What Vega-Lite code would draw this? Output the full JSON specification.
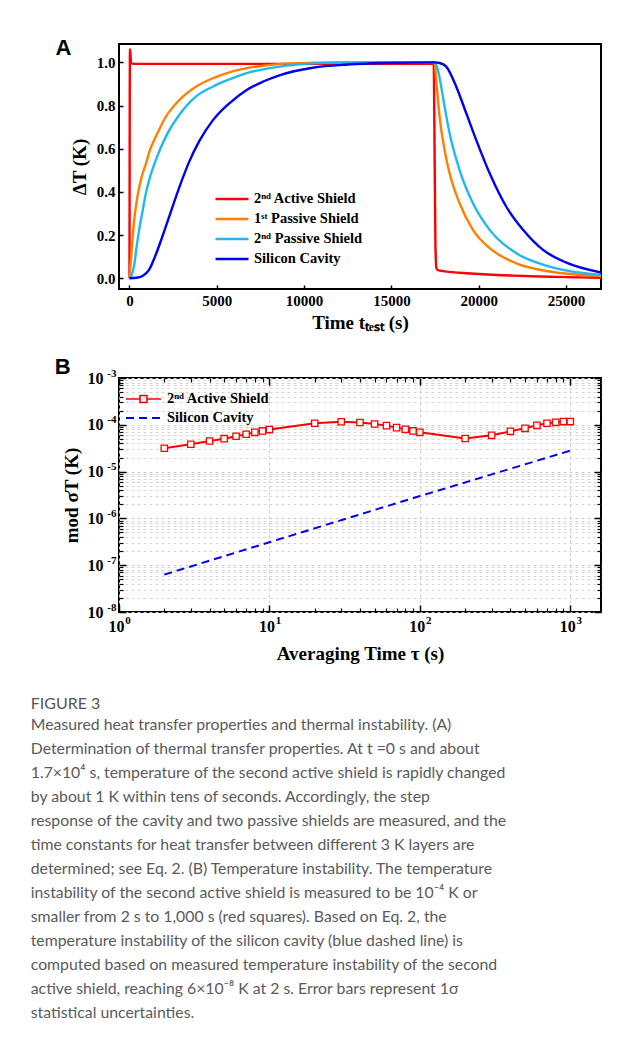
{
  "$schema": "https://vega.github.io/schema/vega-lite/v6.json",
  "background": "white",
  "padding": {"left": 30, "top": 36, "right": 5, "bottom": 5},
  "bounds": "flush",
  "spacing": 89,
  "title": {
    "text": "FIGURE 3",
    "subtitle": [
      "Measured heat transfer properties and thermal instability. (A)",
      "Determination of thermal transfer properties. At t =0 s and about",
      "1.7×10⁴ s, temperature of the second active shield is rapidly changed",
      "by about 1 K within tens of seconds. Accordingly, the step",
      "response of the cavity and two passive shields are measured, and the",
      "time constants for heat transfer between different 3 K layers are",
      "determined; see Eq. 2. (B) Temperature instability. The temperature",
      "instability of the second active shield is measured to be 10⁻⁴ K or",
      "smaller from 2 s to 1,000 s (red squares). Based on Eq. 2, the",
      "temperature instability of the silicon cavity (blue dashed line) is",
      "computed based on measured temperature instability of the second",
      "active shield, reaching 6×10⁻⁸ K at 2 s. Error bars represent 1σ",
      "statistical uncertainties."
    ],
    "orient": "bottom",
    "anchor": "start",
    "frame": "bounds",
    "offset": 32,
    "dx": -23,
    "font": "Lato",
    "fontSize": 16,
    "fontWeight": "normal",
    "color": "#555555",
    "subtitleFont": "Lato",
    "subtitleFontSize": 15.8,
    "subtitleColor": "#5a5a5a",
    "subtitleLineHeight": 24,
    "subtitlePadding": 6
  },
  "vconcat": [
    {
      "width": 482,
      "height": 245,
      "layer": [
        {
          "data": {"values": [
            {"t": 0, "v": 0, "s": "2ⁿᵈ Active Shield"},
            {"t": 15, "v": 0.85, "s": "2ⁿᵈ Active Shield"},
            {"t": 30, "v": 1.06, "s": "2ⁿᵈ Active Shield"},
            {"t": 55, "v": 1.04, "s": "2ⁿᵈ Active Shield"},
            {"t": 90, "v": 0.995, "s": "2ⁿᵈ Active Shield"},
            {"t": 300, "v": 0.993, "s": "2ⁿᵈ Active Shield"},
            {"t": 17420, "v": 0.993, "s": "2ⁿᵈ Active Shield"},
            {"t": 17470, "v": 0.6, "s": "2ⁿᵈ Active Shield"},
            {"t": 17520, "v": 0.15, "s": "2ⁿᵈ Active Shield"},
            {"t": 17580, "v": 0.045, "s": "2ⁿᵈ Active Shield"},
            {"t": 17700, "v": 0.036, "s": "2ⁿᵈ Active Shield"},
            {"t": 18500, "v": 0.028, "s": "2ⁿᵈ Active Shield"},
            {"t": 19300, "v": 0.023, "s": "2ⁿᵈ Active Shield"},
            {"t": 20500, "v": 0.017, "s": "2ⁿᵈ Active Shield"},
            {"t": 22000, "v": 0.012, "s": "2ⁿᵈ Active Shield"},
            {"t": 23500, "v": 0.008, "s": "2ⁿᵈ Active Shield"},
            {"t": 25000, "v": 0.005, "s": "2ⁿᵈ Active Shield"},
            {"t": 27100, "v": 0.002, "s": "2ⁿᵈ Active Shield"},
            {"t": 0, "v": 0, "s": "1ˢᵗ Passive Shield"},
            {"t": 100, "v": 0.1, "s": "1ˢᵗ Passive Shield"},
            {"t": 172, "v": 0.18, "s": "1ˢᵗ Passive Shield"},
            {"t": 300, "v": 0.29, "s": "1ˢᵗ Passive Shield"},
            {"t": 459, "v": 0.38, "s": "1ˢᵗ Passive Shield"},
            {"t": 700, "v": 0.47, "s": "1ˢᵗ Passive Shield"},
            {"t": 937, "v": 0.53, "s": "1ˢᵗ Passive Shield"},
            {"t": 1200, "v": 0.6, "s": "1ˢᵗ Passive Shield"},
            {"t": 1510, "v": 0.656, "s": "1ˢᵗ Passive Shield"},
            {"t": 2083, "v": 0.748, "s": "1ˢᵗ Passive Shield"},
            {"t": 2848, "v": 0.825, "s": "1ˢᵗ Passive Shield"},
            {"t": 3803, "v": 0.887, "s": "1ˢᵗ Passive Shield"},
            {"t": 4759, "v": 0.926, "s": "1ˢᵗ Passive Shield"},
            {"t": 5716, "v": 0.954, "s": "1ˢᵗ Passive Shield"},
            {"t": 6670, "v": 0.972, "s": "1ˢᵗ Passive Shield"},
            {"t": 8584, "v": 0.992, "s": "1ˢᵗ Passive Shield"},
            {"t": 10500, "v": 0.998, "s": "1ˢᵗ Passive Shield"},
            {"t": 12500, "v": 1.0, "s": "1ˢᵗ Passive Shield"},
            {"t": 17460, "v": 1.0, "s": "1ˢᵗ Passive Shield"},
            {"t": 17565, "v": 0.918, "s": "1ˢᵗ Passive Shield"},
            {"t": 17756, "v": 0.748, "s": "1ˢᵗ Passive Shield"},
            {"t": 18043, "v": 0.594, "s": "1ˢᵗ Passive Shield"},
            {"t": 18330, "v": 0.486, "s": "1ˢᵗ Passive Shield"},
            {"t": 18903, "v": 0.347, "s": "1ˢᵗ Passive Shield"},
            {"t": 19668, "v": 0.224, "s": "1ˢᵗ Passive Shield"},
            {"t": 20625, "v": 0.139, "s": "1ˢᵗ Passive Shield"},
            {"t": 22150, "v": 0.069, "s": "1ˢᵗ Passive Shield"},
            {"t": 24066, "v": 0.031, "s": "1ˢᵗ Passive Shield"},
            {"t": 27100, "v": 0.01, "s": "1ˢᵗ Passive Shield"},
            {"t": 0, "v": 0, "s": "2ⁿᵈ Passive Shield"},
            {"t": 100, "v": 0.01, "s": "2ⁿᵈ Passive Shield"},
            {"t": 268, "v": 0.06, "s": "2ⁿᵈ Passive Shield"},
            {"t": 400, "v": 0.14, "s": "2ⁿᵈ Passive Shield"},
            {"t": 554, "v": 0.224, "s": "2ⁿᵈ Passive Shield"},
            {"t": 750, "v": 0.31, "s": "2ⁿᵈ Passive Shield"},
            {"t": 937, "v": 0.393, "s": "2ⁿᵈ Passive Shield"},
            {"t": 1200, "v": 0.475, "s": "2ⁿᵈ Passive Shield"},
            {"t": 1510, "v": 0.548, "s": "2ⁿᵈ Passive Shield"},
            {"t": 2083, "v": 0.656, "s": "2ⁿᵈ Passive Shield"},
            {"t": 2848, "v": 0.756, "s": "2ⁿᵈ Passive Shield"},
            {"t": 3803, "v": 0.841, "s": "2ⁿᵈ Passive Shield"},
            {"t": 4759, "v": 0.887, "s": "2ⁿᵈ Passive Shield"},
            {"t": 5716, "v": 0.921, "s": "2ⁿᵈ Passive Shield"},
            {"t": 6670, "v": 0.949, "s": "2ⁿᵈ Passive Shield"},
            {"t": 8584, "v": 0.98, "s": "2ⁿᵈ Passive Shield"},
            {"t": 10493, "v": 0.995, "s": "2ⁿᵈ Passive Shield"},
            {"t": 12500, "v": 1.0, "s": "2ⁿᵈ Passive Shield"},
            {"t": 17470, "v": 1.0, "s": "2ⁿᵈ Passive Shield"},
            {"t": 17560, "v": 0.99, "s": "2ⁿᵈ Passive Shield"},
            {"t": 17660, "v": 0.964, "s": "2ⁿᵈ Passive Shield"},
            {"t": 17800, "v": 0.91, "s": "2ⁿᵈ Passive Shield"},
            {"t": 17947, "v": 0.841, "s": "2ⁿᵈ Passive Shield"},
            {"t": 18330, "v": 0.671, "s": "2ⁿᵈ Passive Shield"},
            {"t": 18903, "v": 0.501, "s": "2ⁿᵈ Passive Shield"},
            {"t": 19668, "v": 0.347, "s": "2ⁿᵈ Passive Shield"},
            {"t": 20625, "v": 0.224, "s": "2ⁿᵈ Passive Shield"},
            {"t": 22150, "v": 0.116, "s": "2ⁿᵈ Passive Shield"},
            {"t": 24066, "v": 0.054, "s": "2ⁿᵈ Passive Shield"},
            {"t": 27100, "v": 0.015, "s": "2ⁿᵈ Passive Shield"},
            {"t": 0, "v": 0, "s": "Silicon Cavity"},
            {"t": 400, "v": 0.002, "s": "Silicon Cavity"},
            {"t": 745, "v": 0.01, "s": "Silicon Cavity"},
            {"t": 1128, "v": 0.04, "s": "Silicon Cavity"},
            {"t": 1510, "v": 0.11, "s": "Silicon Cavity"},
            {"t": 2083, "v": 0.24, "s": "Silicon Cavity"},
            {"t": 2848, "v": 0.42, "s": "Silicon Cavity"},
            {"t": 3422, "v": 0.54, "s": "Silicon Cavity"},
            {"t": 3995, "v": 0.635, "s": "Silicon Cavity"},
            {"t": 4759, "v": 0.73, "s": "Silicon Cavity"},
            {"t": 5716, "v": 0.81, "s": "Silicon Cavity"},
            {"t": 6670, "v": 0.87, "s": "Silicon Cavity"},
            {"t": 7626, "v": 0.91, "s": "Silicon Cavity"},
            {"t": 8584, "v": 0.94, "s": "Silicon Cavity"},
            {"t": 10493, "v": 0.975, "s": "Silicon Cavity"},
            {"t": 12500, "v": 0.99, "s": "Silicon Cavity"},
            {"t": 14500, "v": 0.997, "s": "Silicon Cavity"},
            {"t": 17470, "v": 1.0, "s": "Silicon Cavity"},
            {"t": 17756, "v": 0.997, "s": "Silicon Cavity"},
            {"t": 18138, "v": 0.98, "s": "Silicon Cavity"},
            {"t": 18712, "v": 0.887, "s": "Silicon Cavity"},
            {"t": 19285, "v": 0.764, "s": "Silicon Cavity"},
            {"t": 19858, "v": 0.64, "s": "Silicon Cavity"},
            {"t": 20625, "v": 0.486, "s": "Silicon Cavity"},
            {"t": 21578, "v": 0.331, "s": "Silicon Cavity"},
            {"t": 22535, "v": 0.224, "s": "Silicon Cavity"},
            {"t": 23682, "v": 0.131, "s": "Silicon Cavity"},
            {"t": 25018, "v": 0.072, "s": "Silicon Cavity"},
            {"t": 27100, "v": 0.025, "s": "Silicon Cavity"}
          ]},
          "mark": {"type": "line", "strokeWidth": 2.4, "clip": true, "interpolate": "monotone"},
          "encoding": {
            "x": {"field": "t", "type": "quantitative",
              "scale": {"domain": [-600, 27000], "nice": false, "zero": false},
              "axis": {"values": [0, 5000, 10000, 15000, 20000, 25000], "format": "d", "tickSize": -4, "tickWidth": 1.5, "labelPadding": 8, "labelFlush": false, "title": "Time tₜₑₛₜ (s)", "minExtent": 16, "maxExtent": 16, "titlePadding": 8}},
            "y": {"field": "v", "type": "quantitative",
              "scale": {"domain": [-0.05, 1.085], "nice": false, "zero": false},
              "axis": {"values": [0, 0.2, 0.4, 0.6, 0.8, 1.0], "format": ".1f", "tickSize": -4, "tickWidth": 1.5, "labelPadding": 8, "title": "ΔT (K)", "minExtent": 24, "maxExtent": 24, "titlePadding": 6}},
            "color": {"field": "s", "type": "nominal",
              "scale": {"domain": ["2ⁿᵈ Active Shield", "1ˢᵗ Passive Shield", "2ⁿᵈ Passive Shield", "Silicon Cavity"], "range": ["#ff0000", "#ff8000", "#20b8f0", "#0000f0"]},
              "legend": {"orient": "none", "legendX": 95, "legendY": 147, "title": null, "symbolType": "stroke", "symbolSize": 1089, "symbolStrokeWidth": 2.5, "clipHeight": 16, "rowPadding": 4, "labelOffset": 4}}
          }
        },
        {
          "data": {"values": [{"label": "A"}]},
          "mark": {"type": "text", "font": "Liberation Sans", "fontSize": 22, "fontWeight": "bold", "align": "left", "baseline": "alphabetic", "color": "black", "clip": false},
          "encoding": {
            "text": {"field": "label"},
            "x": {"datum": -4243, "type": "quantitative"},
            "y": {"datum": 1.034, "type": "quantitative"}
          }
        }
      ]
    },
    {
      "width": 482,
      "height": 234,
      "layer": [
        {
          "data": {"values": [
            {"tau": 2, "sig": 3.15e-5}, {"tau": 3, "sig": 3.83e-5}, {"tau": 4, "sig": 4.5e-5},
            {"tau": 5, "sig": 5.05e-5}, {"tau": 6, "sig": 5.7e-5}, {"tau": 7, "sig": 6.27e-5},
            {"tau": 8, "sig": 6.9e-5}, {"tau": 9, "sig": 7.4e-5}, {"tau": 10, "sig": 7.9e-5},
            {"tau": 20, "sig": 1.08e-4}, {"tau": 30, "sig": 1.16e-4}, {"tau": 40, "sig": 1.12e-4},
            {"tau": 50, "sig": 1.04e-4}, {"tau": 60, "sig": 9.6e-5}, {"tau": 70, "sig": 8.7e-5},
            {"tau": 80, "sig": 8.0e-5}, {"tau": 90, "sig": 7.4e-5}, {"tau": 100, "sig": 6.9e-5},
            {"tau": 200, "sig": 5.1e-5}, {"tau": 300, "sig": 5.96e-5}, {"tau": 400, "sig": 7.25e-5},
            {"tau": 500, "sig": 8.4e-5}, {"tau": 600, "sig": 9.75e-5}, {"tau": 700, "sig": 1.08e-4},
            {"tau": 800, "sig": 1.13e-4}, {"tau": 900, "sig": 1.17e-4}, {"tau": 1000, "sig": 1.17e-4}
          ]},
          "layer": [
            {
              "mark": {"type": "line", "strokeWidth": 2},
              "encoding": {
                "x": {"field": "tau", "type": "quantitative",
                  "scale": {"type": "log", "domain": [1, 1600], "nice": false},
                  "axis": {"orient": "bottom", "values": [1, 10, 100, 1000], "labelExpr": "'10'", "labelFontSize": 16, "labelOffset": -3, "labelFlush": false, "tickSize": -7, "tickWidth": 1.5, "labelPadding": 13, "grid": true, "gridDash": [3, 3], "gridColor": "#cccccc", "title": "Averaging Time τ (s)", "minExtent": 22, "maxExtent": 22, "titlePadding": 10}},
                "y": {"field": "sig", "type": "quantitative",
                  "scale": {"type": "log", "domain": [1e-8, 1e-3], "nice": false},
                  "axis": {"orient": "left", "values": [1e-8, 1e-7, 1e-6, 1e-5, 1e-4, 1e-3], "labelExpr": "'10'", "labelFontSize": 16, "tickSize": -7, "tickWidth": 1.5, "labelPadding": 23, "grid": true, "gridDash": [3, 3], "gridColor": "#cccccc", "title": "mod σT (K)", "minExtent": 32, "maxExtent": 32, "titlePadding": 6}},
                "color": {"datum": "2ⁿᵈ Active Shield", "type": "nominal",
                  "scale": {"range": ["#ff0000"]},
                  "legend": {"orient": "none", "legendX": 6, "legendY": 13, "title": null, "symbolType": "M-1,0H-0.2M0.2,0H1M-0.2,-0.2H0.2V0.2H-0.2Z", "symbolSize": 1225, "symbolStrokeWidth": 1.6, "clipHeight": 16, "labelOffset": 5}}
              }
            },
            {
              "mark": {"type": "point", "shape": "square", "size": 40, "filled": false, "fill": "white", "fillOpacity": 1, "stroke": "#ff0000", "strokeWidth": 1.3, "opacity": 1},
              "encoding": {
                "x": {"field": "tau", "type": "quantitative"},
                "y": {"field": "sig", "type": "quantitative"}
              }
            }
          ]
        },
        {
          "data": {"values": [
            {"tau": 2, "sig": 6.3e-8}, {"tau": 10, "sig": 3.1e-7}, {"tau": 100, "sig": 3.0e-6}, {"tau": 1000, "sig": 2.8e-5}
          ]},
          "mark": {"type": "line", "strokeWidth": 2, "strokeDash": [8, 5]},
          "encoding": {
            "x": {"field": "tau", "type": "quantitative",
              "axis": {"orient": "bottom", "values": [2, 3, 4, 5, 6, 7, 8, 9, 20, 30, 40, 50, 60, 70, 80, 90, 200, 300, 400, 500, 600, 700, 800, 900], "labels": false, "tickSize": -4, "tickWidth": 1.2, "grid": false, "title": null}},
            "y": {"field": "sig", "type": "quantitative",
              "axis": {"orient": "left", "values": [2e-8, 3e-8, 4e-8, 5e-8, 6e-8, 7e-8, 8e-8, 9e-8, 2e-7, 3e-7, 4e-7, 5e-7, 6e-7, 7e-7, 8e-7, 9e-7, 2e-6, 3e-6, 4e-6, 5e-6, 6e-6, 7e-6, 8e-6, 9e-6, 2e-5, 3e-5, 4e-5, 5e-5, 6e-5, 7e-5, 8e-5, 9e-5, 2e-4, 3e-4, 4e-4, 5e-4, 6e-4, 7e-4, 8e-4, 9e-4], "labels": false, "tickSize": -4, "tickWidth": 1.2, "grid": true, "gridDash": [3, 3], "gridColor": "#d6d6d6", "title": null}},
            "color": {"datum": "Silicon Cavity", "type": "nominal",
              "scale": {"range": ["#0000f0"]},
              "legend": {"orient": "none", "legendX": 6, "legendY": 32, "title": null, "symbolType": "stroke", "symbolSize": 1225, "symbolStrokeWidth": 2, "symbolDash": [8, 5], "clipHeight": 16, "labelOffset": 5}}
          }
        },
        {
          "data": {"values": []},
          "mark": {"type": "point"},
          "encoding": {
            "x": {"field": "tau", "type": "quantitative",
              "axis": {"orient": "top", "values": [1, 10, 100, 1000], "labels": false, "tickSize": -7, "tickWidth": 1.5, "grid": false, "title": null}},
            "y": {"field": "sig", "type": "quantitative",
              "axis": {"orient": "right", "values": [1e-8, 1e-7, 1e-6, 1e-5, 1e-4, 1e-3], "labels": false, "tickSize": -7, "tickWidth": 1.5, "grid": false, "title": null}}
          }
        },
        {
          "data": {"values": []},
          "mark": {"type": "point"},
          "encoding": {
            "x": {"field": "tau", "type": "quantitative",
              "axis": {"orient": "top", "values": [2, 3, 4, 5, 6, 7, 8, 9, 20, 30, 40, 50, 60, 70, 80, 90, 200, 300, 400, 500, 600, 700, 800, 900], "labels": false, "tickSize": -4, "tickWidth": 1.2, "grid": false, "title": null}},
            "y": {"field": "sig", "type": "quantitative",
              "axis": {"orient": "right", "values": [2e-8, 3e-8, 4e-8, 5e-8, 6e-8, 7e-8, 8e-8, 9e-8, 2e-7, 3e-7, 4e-7, 5e-7, 6e-7, 7e-7, 8e-7, 9e-7, 2e-6, 3e-6, 4e-6, 5e-6, 6e-6, 7e-6, 8e-6, 9e-6, 2e-5, 3e-5, 4e-5, 5e-5, 6e-5, 7e-5, 8e-5, 9e-5, 2e-4, 3e-4, 4e-4, 5e-4, 6e-4, 7e-4, 8e-4, 9e-4], "labels": false, "tickSize": -4, "tickWidth": 1.2, "grid": false, "title": null}}
          }
        },
        {
          "data": {"values": []},
          "mark": {"type": "point"},
          "encoding": {
            "x": {"field": "tau", "type": "quantitative",
              "axis": {"orient": "bottom", "values": [1, 10, 100, 1000], "labelExpr": "'' + round(log(datum.value)/LN10)", "labelFontSize": 11, "labelOffset": 8.5, "labelFlush": false, "tickSize": 0, "tickOpacity": 0, "labelPadding": 2, "grid": false, "title": null}},
            "y": {"field": "sig", "type": "quantitative",
              "axis": {"orient": "left", "values": [1e-8, 1e-7, 1e-6, 1e-5, 1e-4, 1e-3], "labelExpr": "'-' + (-round(log(datum.value)/LN10))", "labelFontSize": 11, "labelOffset": -5, "tickSize": 0, "tickOpacity": 0, "labelPadding": 3, "grid": false, "title": null}}
          }
        },
        {
          "data": {"values": [{"label": "B"}]},
          "mark": {"type": "text", "font": "Liberation Sans", "fontSize": 22, "fontWeight": "bold", "align": "left", "baseline": "alphabetic", "color": "black", "clip": false},
          "encoding": {
            "text": {"field": "label"},
            "x": {"datum": 0.374, "type": "quantitative", "axis": null},
            "y": {"datum": 0.001216, "type": "quantitative", "axis": null}
          }
        }
      ],
      "resolve": {"axis": {"x": "independent", "y": "independent"}, "scale": {"color": "independent"}}
    }
  ],
  "config": {
    "view": {"stroke": "black", "strokeWidth": 2},
    "axis": {"labelFont": "Liberation Serif", "labelFontWeight": "bold", "labelFontSize": 15, "labelColor": "black", "titleFont": "Liberation Serif", "titleFontWeight": "bold", "titleFontSize": 19, "titleColor": "black", "tickColor": "black", "domain": false, "grid": false, "labelOverlap": false},
    "legend": {"labelFont": "Liberation Serif", "labelFontWeight": "bold", "labelFontSize": 14.5, "labelColor": "black", "padding": 0}
  }
}
